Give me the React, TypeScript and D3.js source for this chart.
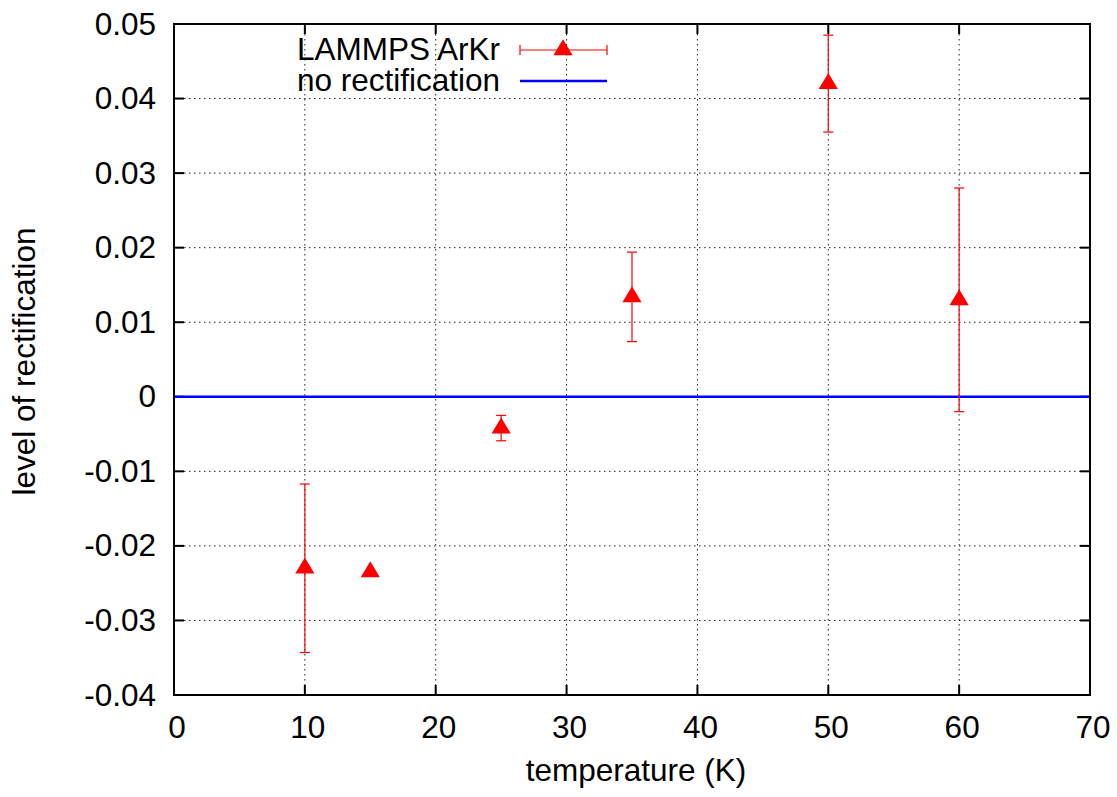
import React from "react";
import * as d3 from "d3";

const temperatures = [10, 15, 25, 35, 50, 60];
const levels = [-0.023, -0.0235, -0.0042, 0.0134, 0.042, 0.013];
const errors = [0.0113, 0, 0.0017, 0.006, 0.0065, 0.015];
const xTicks = [0, 10, 20, 30, 40, 50, 60, 70];
const yTicks = [-0.04, -0.03, -0.02, -0.01, 0, 0.01, 0.02, 0.03, 0.04, 0.05];
const yTickLabels = ["-0.04", "-0.03", "-0.02", "-0.01", "0", "0.01", "0.02", "0.03", "0.04", "0.05"];
const legendLabels = ["LAMMPS ArKr", "no rectification"];

const W = 1117;
const H = 797;
const left = 174;
const right = 1090;
const top = 24;
const bottom = 695;
const FONT = "'Liberation Sans', Arial, sans-serif";
const FS = 31.5;

function tri(cx: number, cy: number, s: number) {
  const h = (4 / 3) * s;
  return `M${cx},${cy - h}L${cx + s * 1.2},${cy + (2 / 3) * s}L${cx - s * 1.2},${cy + (2 / 3) * s}Z`;
}

export default function App() {
  const x = d3.scaleLinear().domain([0, 70]).range([left, right]);
  const y = d3.scaleLinear().domain([-0.04, 0.05]).range([bottom, top]);
  const cap = 5;
  const tick = 10;
  return (
    <svg
      width={W}
      height={H}
      style={{ position: "absolute", left: 0, top: 0, background: "#fff" }}
      fontFamily={FONT}
    >
      <rect x={0} y={0} width={W} height={H} fill="#fff" />
      {xTicks.slice(1, -1).map((t) => (
        <line key={"gx" + t} x1={x(t)} x2={x(t)} y1={top} y2={bottom} stroke="#222" strokeWidth={1} strokeDasharray="1.5,3.5" />
      ))}
      {yTicks.slice(1, -1).map((t) => (
        <line key={"gy" + t} x1={left} x2={right} y1={y(t)} y2={y(t)} stroke="#222" strokeWidth={1} strokeDasharray="1.5,3.5" />
      ))}
      {xTicks.map((t) => (
        <g key={"tx" + t}>
          <line x1={x(t)} x2={x(t)} y1={bottom} y2={bottom - tick} stroke="#000" strokeWidth={2} />
          <line x1={x(t)} x2={x(t)} y1={top} y2={top + tick} stroke="#000" strokeWidth={2} />
          <text x={x(t) + 3} y={738} textAnchor="middle" fontSize={FS} fill="#000">
            {t}
          </text>
        </g>
      ))}
      {yTicks.map((t, i) => (
        <g key={"ty" + t}>
          <line x1={left} x2={left + tick} y1={y(t)} y2={y(t)} stroke="#000" strokeWidth={2} />
          <line x1={right} x2={right - tick} y1={y(t)} y2={y(t)} stroke="#000" strokeWidth={2} />
          <text x={156} y={y(t) + 10.5} textAnchor="end" fontSize={FS} fill="#000">
            {yTickLabels[i]}
          </text>
        </g>
      ))}
      <line x1={left} x2={right} y1={y(0)} y2={y(0)} stroke="#0000ff" strokeWidth={2.5} />
      <rect x={left} y={top} width={right - left} height={bottom - top} fill="none" stroke="#000" strokeWidth={2} />
      {temperatures.map((t, i) => {
        const cx = x(t);
        const cy = y(levels[i]);
        const e = errors[i];
        return (
          <g key={"d" + t}>
            {e > 0 && (
              <g stroke="#ff0000" strokeWidth={1.2}>
                <line x1={cx} x2={cx} y1={y(levels[i] + e)} y2={y(levels[i] - e)} />
                <line x1={cx - cap} x2={cx + cap} y1={y(levels[i] + e)} y2={y(levels[i] + e)} />
                <line x1={cx - cap} x2={cx + cap} y1={y(levels[i] - e)} y2={y(levels[i] - e)} />
              </g>
            )}
            <path d={tri(cx, cy, 8)} fill="#ff0000" />
          </g>
        );
      })}
      <text x={500} y={60} textAnchor="end" fontSize={FS} fill="#000">
        {legendLabels[0]}
      </text>
      <g stroke="#ff0000" strokeWidth={1.2}>
        <line x1={520} x2={607} y1={50} y2={50} />
        <line x1={520} x2={520} y1={45} y2={55} />
        <line x1={607} x2={607} y1={45} y2={55} />
      </g>
      <path d={tri(563, 50, 8)} fill="#ff0000" />
      <text x={500} y={91} textAnchor="end" fontSize={FS} fill="#000">
        {legendLabels[1]}
      </text>
      <line x1={520} x2={607} y1={81} y2={81} stroke="#0000ff" strokeWidth={2.5} />
      <text x={636} y={781} textAnchor="middle" fontSize={FS} fill="#000">
        temperature (K)
      </text>
      <text
        transform={`translate(35,${(top + bottom) / 2 + 2}) rotate(-90)`}
        textAnchor="middle"
        fontSize={FS}
        fill="#000"
      >
        level of rectification
      </text>
    </svg>
  );
}
